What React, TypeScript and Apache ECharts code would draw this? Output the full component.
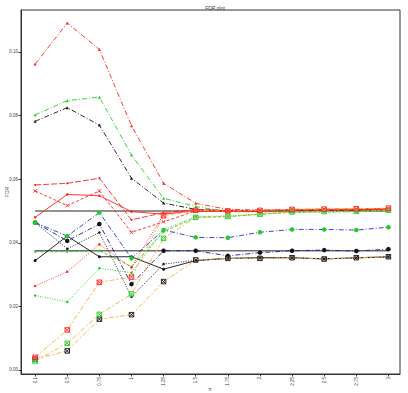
import React, { useEffect, useRef } from "react";
import * as echarts from "echarts";

// x categories (pi)
const piLabels = ["0.1", "0.5", "0.75", "1", "1.25", "1.5", "1.75", "2", "2.25", "2.5", "2.75", "3"];
const yTicks = [0, 0.02, 0.04, 0.06, 0.08, 0.1];
const nominalLevels = [0.05, 0.0375];

// FDR per method
const redTwodash = [0.0962, 0.1091, 0.1008, 0.0768, 0.0587, 0.0524, 0.0505, 0.0503, 0.0505, 0.0506, 0.0506, 0.0508];
const greenTwodash = [0.0802, 0.0847, 0.0858, 0.0676, 0.054, 0.0514, 0.0498, 0.0497, 0.0498, 0.0499, 0.0499, 0.0502];
const blackTwodash = [0.0782, 0.0825, 0.077, 0.0603, 0.0525, 0.0505, 0.05, 0.05, 0.0501, 0.0502, 0.0502, 0.0504];
const redLongdash = [0.0582, 0.0587, 0.0603, 0.0472, 0.0495, 0.0505, 0.0502, 0.0502, 0.0504, 0.0505, 0.0505, 0.0507];
const redDashed = [0.0563, 0.0517, 0.0563, 0.0433, 0.0466, 0.05, 0.0499, 0.05, 0.0503, 0.0504, 0.0505, 0.0506];
const redSolid = [0.048, 0.0552, 0.0548, 0.0498, 0.049, 0.05, 0.0498, 0.05, 0.0503, 0.0503, 0.0504, 0.0506];
const blueDashdot = [0.0464, 0.0421, 0.0495, 0.0351, 0.044, 0.0417, 0.0416, 0.0433, 0.0442, 0.0442, 0.044, 0.0449];
const navyDashed = [0.0464, 0.0406, 0.0459, 0.027, 0.0375, 0.0375, 0.0359, 0.0369, 0.0375, 0.0377, 0.0374, 0.038];
const blackSolid = [0.0344, 0.0421, 0.0356, 0.0356, 0.0317, 0.0344, 0.0351, 0.0353, 0.0353, 0.0349, 0.0353, 0.0356];
const greenDashed = [0.0372, 0.0372, 0.0375, 0.0325, 0.0435, 0.048, 0.0482, 0.049, 0.0496, 0.0497, 0.0498, 0.0501];
const redDotted = [0.0264, 0.0309, 0.0395, 0.0322, 0.049, 0.0503, 0.05, 0.0502, 0.0504, 0.0505, 0.0506, 0.0507];
const greenDotted = [0.0234, 0.0214, 0.032, 0.0306, 0.044, 0.0483, 0.0484, 0.049, 0.0496, 0.0497, 0.0498, 0.05];
const blackDotted = [0.0464, 0.0381, 0.0432, 0.023, 0.0333, 0.0345, 0.0351, 0.0352, 0.0353, 0.035, 0.0352, 0.0355];
const orangeRed = [0.004, 0.0126, 0.0276, 0.0292, 0.0485, 0.0502, 0.05, 0.0502, 0.0505, 0.0506, 0.0507, 0.0509];
const orangeGreen = [0.0028, 0.0084, 0.0175, 0.0239, 0.0414, 0.048, 0.0483, 0.049, 0.0497, 0.0498, 0.0499, 0.0502];
const orangeBlack = [0.0034, 0.006, 0.016, 0.0174, 0.0278, 0.0346, 0.0351, 0.0351, 0.0353, 0.0349, 0.0353, 0.0356];

const RED = "#ff2020";
const GREEN = "#22cc22";
const BLACK = "#111111";
const BLUE = "#2233cc";
const NAVY = "#1a1a8c";
const ORANGE = "#f5b041";
const TEXT = "#444";
const FONT = "Liberation Sans";

const X_SYM = "path://M0,0L10,10M10,0L0,10";
const BOXX_SYM = "path://M0,0L10,0L10,10L0,10ZM0,0L10,10M10,0L0,10";

const DASHDOT = [5, 2, 1, 2];
const LONGDASH = [6, 2];
const DASHED = [3, 2];
const DOTTED = [1, 1.5];
const ORANGE_DASH = [5, 2, 2, 2];

type Spec = {
  name: string;
  values: number[];
  line: string;
  dash: any;
  sym: string;
  symColor: string;
  size: number;
  stroke?: boolean;
};

const specs: Spec[] = [
  { name: "redTwodash", values: redTwodash, line: RED, dash: DASHDOT, sym: "triangle", symColor: RED, size: 3 },
  { name: "greenTwodash", values: greenTwodash, line: GREEN, dash: DASHDOT, sym: "triangle", symColor: GREEN, size: 3 },
  { name: "blackTwodash", values: blackTwodash, line: BLACK, dash: DASHDOT, sym: "triangle", symColor: BLACK, size: 3 },
  { name: "redLongdash", values: redLongdash, line: RED, dash: LONGDASH, sym: "circle", symColor: RED, size: 2 },
  { name: "redDashed", values: redDashed, line: RED, dash: DASHED, sym: X_SYM, symColor: RED, size: 3.5, stroke: true },
  { name: "redSolid", values: redSolid, line: RED, dash: "solid", sym: "circle", symColor: RED, size: 2.5 },
  { name: "greenDashed", values: greenDashed, line: GREEN, dash: DASHED, sym: "circle", symColor: GREEN, size: 2 },
  { name: "redDotted", values: redDotted, line: RED, dash: DOTTED, sym: "circle", symColor: RED, size: 2.5 },
  { name: "greenDotted", values: greenDotted, line: GREEN, dash: DOTTED, sym: "circle", symColor: GREEN, size: 2.5 },
  { name: "blackDotted", values: blackDotted, line: BLACK, dash: DOTTED, sym: "circle", symColor: BLACK, size: 2.5 },
  { name: "blackSolid", values: blackSolid, line: BLACK, dash: "solid", sym: "circle", symColor: BLACK, size: 3 },
  { name: "navyDashed", values: navyDashed, line: NAVY, dash: DASHDOT, sym: "circle", symColor: BLACK, size: 4.5 },
  { name: "blueDashdot", values: blueDashdot, line: BLUE, dash: DASHDOT, sym: "circle", symColor: GREEN, size: 4.5 },
  { name: "orangeBlack", values: orangeBlack, line: ORANGE, dash: ORANGE_DASH, sym: BOXX_SYM, symColor: BLACK, size: 4.5, stroke: true },
  { name: "orangeGreen", values: orangeGreen, line: ORANGE, dash: ORANGE_DASH, sym: BOXX_SYM, symColor: GREEN, size: 4.5, stroke: true },
  { name: "orangeRed", values: orangeRed, line: ORANGE, dash: ORANGE_DASH, sym: BOXX_SYM, symColor: RED, size: 4.5, stroke: true },
];

const idx = piLabels.map((_, i) => i);

export default function App() {
  const ref = useRef<HTMLDivElement>(null);

  useEffect(() => {
    if (!ref.current) return;
    const chart = echarts.init(ref.current, undefined, { renderer: "svg" });

    const refLines = nominalLevels.map((lv, k) => ({
      name: "level" + k,
      type: "line",
      data: [
        [0, lv],
        [piLabels.length - 1, lv],
      ],
      symbol: "none",
      lineStyle: { color: "#6e6e6e", width: 1.6 },
      z: 1,
      silent: true,
    }));

    const methodSeries = specs.map((s) => ({
      name: s.name,
      type: "line",
      data: s.values.map((v, i) => [i, v]),
      symbol: s.sym,
      symbolSize: s.size,
      showSymbol: true,
      lineStyle: { color: s.line, width: 0.9, type: s.dash },
      itemStyle: s.stroke
        ? {
            color: s.sym === BOXX_SYM ? "rgba(255,255,255,0.35)" : "transparent",
            borderColor: s.symColor,
            borderWidth: 0.9,
          }
        : { color: s.symColor, borderWidth: 0 },
      z: 2,
    }));

    chart.setOption({
      animation: false,
      backgroundColor: "#ffffff",
      title: {
        text: "FDR plot",
        left: 210,
        top: 0,
        textAlign: "center",
        textStyle: { fontSize: 5, fontWeight: "normal", color: TEXT, fontFamily: FONT },
      },
      // axis titles
      graphic: [
        {
          type: "text",
          x: 7,
          y: 192,
          rotation: Math.PI / 2,
          style: {
            text: "FDR",
            fontSize: 5,
            fill: TEXT,
            fontFamily: FONT,
            align: "center",
            verticalAlign: "middle",
          },
        },
        {
          type: "text",
          x: 210,
          y: 389,
          style: {
            text: "π",
            fontSize: 5,
            fill: TEXT,
            fontFamily: FONT,
            align: "center",
            verticalAlign: "middle",
          },
        },
      ],
      grid: {
        left: 21,
        right: 8,
        top: 10,
        bottom: 19,
        containLabel: false,
        outerBoundsMode: "none",
        show: true,
        borderColor: "#333",
        borderWidth: 1,
        backgroundColor: "transparent",
      },
      xAxis: {
        type: "value",
        min: -0.44,
        max: 11.36,
        axisLine: { show: true, onZero: false, lineStyle: { color: "#333", width: 1 } },
        axisTick: { show: true, length: 2.5, customValues: idx, lineStyle: { color: "#333" } },
        axisLabel: {
          customValues: idx,
          rotate: 90,
          fontSize: 4.5,
          color: TEXT,
          margin: 3,
          fontFamily: FONT,
          formatter: (v: number) => piLabels[Math.round(v)] ?? "",
        },
        splitLine: { show: false },
      },
      yAxis: {
        type: "value",
        min: -0.00126,
        max: 0.1132,
        axisLine: { show: true, onZero: false, lineStyle: { color: "#333", width: 1 } },
        axisTick: { show: true, length: 2.5, customValues: yTicks, lineStyle: { color: "#333" } },
        axisLabel: {
          customValues: yTicks,
          fontSize: 4.5,
          color: TEXT,
          margin: 3,
          fontFamily: FONT,
          formatter: (v: number) => v.toFixed(2),
        },
        splitLine: { show: false },
      },
      series: [...refLines, ...methodSeries],
    });

    return () => chart.dispose();
  }, []);

  return (
    <div
      ref={ref}
      style={{ position: "fixed", left: 0, top: 0, width: 408, height: 393, background: "#fff" }}
    />
  );
}
